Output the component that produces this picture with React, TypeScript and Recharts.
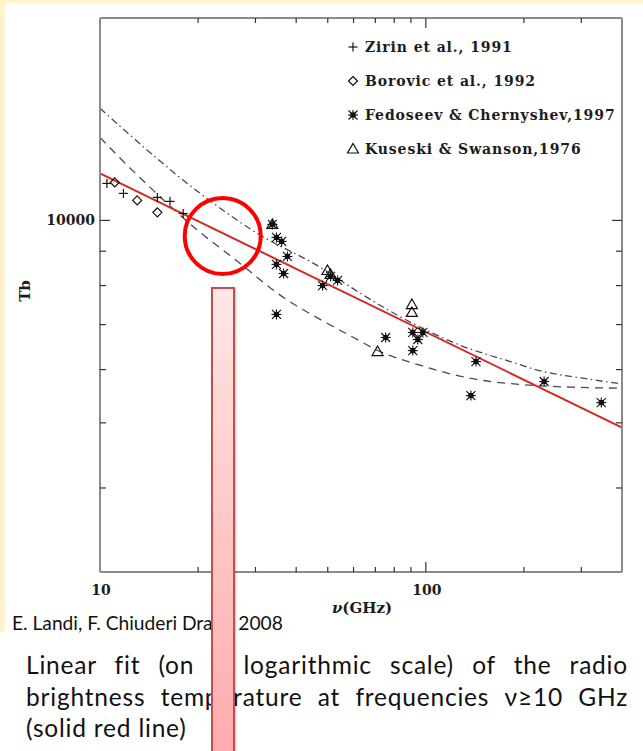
import React from 'react';
import {
  ComposedChart,
  Line,
  Scatter,
  XAxis,
  YAxis,
  Legend,
  ReferenceDot,
} from 'recharts';

// Brightness temperature (K) versus frequency (GHz), log-log.
const zirin = [
  { v: 10.5, t: 11350 },
  { v: 11.8, t: 10970 },
  { v: 15.0, t: 10820 },
  { v: 16.4, t: 10674 },
  { v: 18.0, t: 10240 },
];

const borovic = [
  { v: 11.1, t: 11390 },
  { v: 13.0, t: 10710 },
  { v: 15.0, t: 10280 },
];

const fedoseev = [
  { v: 33.8, t: 9864 },
  { v: 34.8, t: 9434 },
  { v: 36.1, t: 9306 },
  { v: 37.6, t: 8838 },
  { v: 34.8, t: 8602 },
  { v: 36.6, t: 8338 },
  { v: 34.8, t: 7247 },
  { v: 48.2, t: 8000 },
  { v: 51.0, t: 8253 },
  { v: 53.6, t: 8142 },
  { v: 75.3, t: 6697 },
  { v: 91.2, t: 6813 },
  { v: 97.9, t: 6813 },
  { v: 94.5, t: 6651 },
  { v: 91.2, t: 6403 },
  { v: 142.5, t: 6168 },
  { v: 137.5, t: 5489 },
  { v: 230.7, t: 5760 },
  { v: 345.6, t: 5359 },
];

const kuseski = [
  { v: 33.8, t: 9864 },
  { v: 49.9, t: 8424 },
  { v: 51.0, t: 8310 },
  { v: 90.6, t: 7497 },
  { v: 90.6, t: 7297 },
  { v: 71.1, t: 6382 },
];

// Linear fit in log-log space (end points).
const linearFit = [
  { v: 10, t: 11750 },
  { v: 400, t: 4920 },
];

// Model curves.
const modelDashDot = [
  { v: 10, t: 14680 },
  { v: 20.3, t: 10970 },
  { v: 30.4, t: 9566 },
  { v: 47.5, t: 8514 },
  { v: 63.1, t: 7786 },
  { v: 89.9, t: 7052 },
  { v: 128, t: 6516 },
  { v: 183, t: 6160 },
  { v: 226, t: 5970 },
  { v: 300, t: 5830 },
  { v: 400, t: 5710 },
];

const modelDashed = [
  { v: 10, t: 13290 },
  { v: 11.7, t: 12285 },
  { v: 14.25, t: 11197 },
  { v: 20.3, t: 9597 },
  { v: 25.5, t: 8810 },
  { v: 36.6, t: 7680 },
  { v: 49.9, t: 7027 },
  { v: 60, t: 6697 },
  { v: 71.2, t: 6406 },
  { v: 96.5, t: 6085 },
  { v: 137.5, t: 5821 },
  { v: 196, t: 5700 },
  { v: 279, t: 5650 },
  { v: 400, t: 5630 },
];

const xTicks = [10, 20, 30, 40, 50, 60, 70, 80, 90, 100, 200, 300, 400];
const xLabels = [10, 100];
const yTicks = [3000, 4000, 5000, 6000, 7000, 8000, 9000, 10000, 20000];
const yLabels = [10000];

const legendItems = [
  { key: 'plus', label: 'Zirin et al., 1991' },
  { key: 'diamond', label: 'Borovic et al., 1992' },
  { key: 'star', label: 'Fedoseev & Chernyshev,1997' },
  { key: 'triangle', label: 'Kuseski & Swanson,1976' },
];

const highlight = { v: 23.8, t: 9480 };

const CREAM = '#FFF2CC';
const FRAME = '#8c8c8c';
const INK = '#1c1c1c';
const SERIF = '"DejaVu Serif", "Liberation Serif", serif';
const SANS = 'Lato, "Open Sans", sans-serif';

function Marker({ kind, cx, cy }: { kind: string; cx: number; cy: number }) {
  const s = '#111';
  if (kind === 'plus') {
    return (
      <g stroke={s} strokeWidth={1.2}>
        <line x1={cx - 4.5} y1={cy} x2={cx + 4.5} y2={cy} />
        <line x1={cx} y1={cy - 4.5} x2={cx} y2={cy + 4.5} />
      </g>
    );
  }
  if (kind === 'diamond') {
    return (
      <polygon
        points={`${cx},${cy - 4.5} ${cx + 4.5},${cy} ${cx},${cy + 4.5} ${cx - 4.5},${cy}`}
        fill="none"
        stroke={s}
        strokeWidth={1.2}
      />
    );
  }
  if (kind === 'triangle') {
    return (
      <polygon
        points={`${cx},${cy - 5.5} ${cx + 5.5},${cy + 4} ${cx - 5.5},${cy + 4}`}
        fill="none"
        stroke={s}
        strokeWidth={1.2}
      />
    );
  }
  return (
    <g stroke={s} strokeWidth={1.1}>
      <line x1={cx - 4.5} y1={cy - 4.5} x2={cx + 4.5} y2={cy + 4.5} />
      <line x1={cx - 4.5} y1={cy + 4.5} x2={cx + 4.5} y2={cy - 4.5} />
      <line x1={cx - 5} y1={cy} x2={cx + 5} y2={cy} />
      <line x1={cx} y1={cy - 5} x2={cx} y2={cy + 5} />
      <rect x={cx - 2} y={cy - 2} width={4} height={4} fill={s} />
    </g>
  );
}

const shapeOf = (kind: string) => (p: any) => <Marker kind={kind} cx={p.cx} cy={p.cy} />;

const tickStroke = { stroke: '#333', strokeWidth: 1.2 };

function BottomTick(p: any) {
  const { x, y, payload } = p;
  const v = payload.value;
  const major = xLabels.includes(v);
  const edge = v === 10 || v === 400;
  return (
    <g>
      {!edge && <line x1={x} y1={y} x2={x} y2={y - (major ? 10 : 5)} {...tickStroke} />}
      {major && (
        <text x={x + 1} y={y + 23} textAnchor="middle" fontFamily={SERIF} fontWeight="bold" fontSize={14} fill={INK}>
          {v}
        </text>
      )}
    </g>
  );
}

function TopTick(p: any) {
  const { x, y, payload } = p;
  const v = payload.value;
  const major = xLabels.includes(v);
  if (v === 10 || v === 400) return <g />;
  return <line x1={x} y1={y} x2={x} y2={y + (major ? 10 : 5)} {...tickStroke} />;
}

function LeftTick(p: any) {
  const { x, y, payload } = p;
  const v = payload.value;
  const major = yLabels.includes(v);
  const edge = v === 3000 || v === 20000;
  return (
    <g>
      {!edge && <line x1={x} y1={y} x2={x + (major ? 10 : 6)} y2={y} {...tickStroke} />}
      {major && (
        <text x={x - 5} y={y + 5} textAnchor="end" fontFamily={SERIF} fontWeight="bold" fontSize={14} fill={INK}>
          {v}
        </text>
      )}
    </g>
  );
}

function RightTick(p: any) {
  const { x, y, payload } = p;
  const v = payload.value;
  const major = yLabels.includes(v);
  if (v === 3000 || v === 20000) return <g />;
  return <line x1={x} y1={y} x2={x - (major ? 10 : 6)} y2={y} {...tickStroke} />;
}

function LegendBox() {
  return (
    <div style={{ fontFamily: SERIF, fontWeight: 'bold', fontSize: 14, letterSpacing: 0.9, color: INK }}>
      {legendItems.map((it) => (
        <div key={it.key} style={{ height: 34, display: 'flex', alignItems: 'center' }}>
          <svg width={14} height={14} style={{ marginRight: 5, flex: 'none' }}>
            <Marker kind={it.key} cx={7} cy={7} />
          </svg>
          <span style={{ whiteSpace: 'nowrap' }}>{it.label}</span>
        </div>
      ))}
    </div>
  );
}

const axisCommon = {
  type: 'number' as const,
  scale: 'log' as const,
  allowDataOverflow: true,
  tickLine: false,
  tickSize: 0,
  tickMargin: 0,
  interval: 0 as const,
  axisLine: { stroke: FRAME, strokeWidth: 2 },
};

const lineStyle = { textAlign: 'justify' as const, textAlignLast: 'justify' as const, whiteSpace: 'nowrap' as const };

export default function App() {
  return (
    <div
      style={{
        position: 'absolute',
        left: 0,
        top: 0,
        width: 643,
        height: 751,
        background: '#fff',
        overflow: 'hidden',
      }}
    >
      <div style={{ position: 'absolute', left: 0, top: 0, width: 643, height: 3, background: CREAM }} />
      <div style={{ position: 'absolute', left: 0, top: 0, width: 5, height: 632, background: CREAM }} />

      <div style={{ position: 'absolute', left: 0, top: 0 }}>
        <ComposedChart width={643} height={640} margin={{ top: 0, right: 0, bottom: 0, left: 0 }}>
          <XAxis
            {...axisCommon}
            xAxisId="bottom"
            dataKey="v"
            orientation="bottom"
            height={68}
            domain={[10, 400]}
            ticks={xTicks}
            tick={<BottomTick />}
            label={({ viewBox }: any) => (
              <text
                x={viewBox.x + viewBox.width / 2 + 1}
                y={viewBox.y + 41}
                textAnchor="middle"
                fontFamily={SERIF}
                fontWeight="bold"
                fontSize={15}
                fill={INK}
              >
                <tspan fontStyle="italic">ν</tspan>(GHz)
              </text>
            )}
          />
          <XAxis
            {...axisCommon}
            xAxisId="top"
            dataKey="v"
            orientation="top"
            height={18}
            domain={[10, 400]}
            ticks={xTicks}
            tick={<TopTick />}
          />
          <YAxis
            {...axisCommon}
            yAxisId="left"
            dataKey="t"
            orientation="left"
            width={100}
            domain={[3000, 20000]}
            ticks={yTicks}
            tick={<LeftTick />}
            label={({ viewBox }: any) => {
              const cx = viewBox.x + 25;
              const cy = viewBox.y + viewBox.height / 2 - 4;
              return (
                <text
                  x={cx}
                  y={cy}
                  transform={`rotate(-90 ${cx} ${cy})`}
                  textAnchor="middle"
                  dominantBaseline="central"
                  fontFamily={SERIF}
                  fontWeight="bold"
                  fontSize={15}
                  fill={INK}
                >
                  Tb
                </text>
              );
            }}
          />
          <YAxis
            {...axisCommon}
            yAxisId="right"
            dataKey="t"
            orientation="right"
            width={21}
            domain={[3000, 20000]}
            ticks={yTicks}
            tick={<RightTick />}
          />

          <Line
            xAxisId="bottom"
            yAxisId="left"
            data={modelDashDot}
            dataKey="t"
            type="monotone"
            stroke="#4a4a4a"
            strokeWidth={1.3}
            strokeDasharray="7 3.5 1.5 3.5"
            dot={false}
            activeDot={false}
            isAnimationActive={false}
          />
          <Line
            xAxisId="bottom"
            yAxisId="left"
            data={modelDashed}
            dataKey="t"
            type="monotone"
            stroke="#4a4a4a"
            strokeWidth={1.3}
            strokeDasharray="8 6"
            dot={false}
            activeDot={false}
            isAnimationActive={false}
          />

          <Scatter xAxisId="bottom" yAxisId="left" data={zirin} dataKey="t" shape={shapeOf('plus')} isAnimationActive={false} />
          <Scatter xAxisId="bottom" yAxisId="left" data={borovic} dataKey="t" shape={shapeOf('diamond')} isAnimationActive={false} />
          <Scatter xAxisId="bottom" yAxisId="left" data={fedoseev} dataKey="t" shape={shapeOf('star')} isAnimationActive={false} />
          <Scatter xAxisId="bottom" yAxisId="left" data={kuseski} dataKey="t" shape={shapeOf('triangle')} isAnimationActive={false} />

          <Line
            xAxisId="bottom"
            yAxisId="left"
            data={linearFit}
            dataKey="t"
            type="linear"
            stroke="#D42A22"
            strokeWidth={2}
            dot={false}
            activeDot={false}
            isAnimationActive={false}
          />

          <ReferenceDot
            xAxisId="bottom"
            yAxisId="left"
            x={highlight.v}
            y={highlight.t}
            r={38}
            fill="none"
            stroke="#FF0000"
            strokeWidth={4}
            ifOverflow="visible"
          />

          <Legend
            layout="horizontal"
            verticalAlign="middle"
            align="center"
            content={() => <LegendBox />}
            wrapperStyle={{ left: 346, top: 30, width: 290, height: 136 }}
          />
        </ComposedChart>
      </div>

      <div
        style={{
          position: 'absolute',
          left: 12,
          top: 611,
          fontFamily: SANS,
          fontSize: 19.2,
          lineHeight: '24px',
          color: '#111',
          whiteSpace: 'nowrap',
        }}
      >
        E. Landi, F. Chiuderi Drago 2008
      </div>

      <div
        style={{
          position: 'absolute',
          left: 26,
          top: 649,
          width: 602,
          fontFamily: SANS,
          fontSize: 24.5,
          letterSpacing: 0.8,
          lineHeight: '31.5px',
          color: '#111',
        }}
      >
        <div style={lineStyle}>Linear fit (on a logarithmic scale) of the radio</div>
        <div style={lineStyle}>brightness temperature at frequencies ν≥10 GHz</div>
        <div>(solid red line)</div>
      </div>

      <div
        style={{
          position: 'absolute',
          left: 211,
          top: 287,
          width: 20,
          height: 480,
          border: '2px solid #C0504D',
          background: 'linear-gradient(#FFE6E6, #FFA9A9)',
          boxShadow: '1px 1px 2px rgba(0,0,0,0.25)',
          zIndex: 10,
        }}
      />
    </div>
  );
}
